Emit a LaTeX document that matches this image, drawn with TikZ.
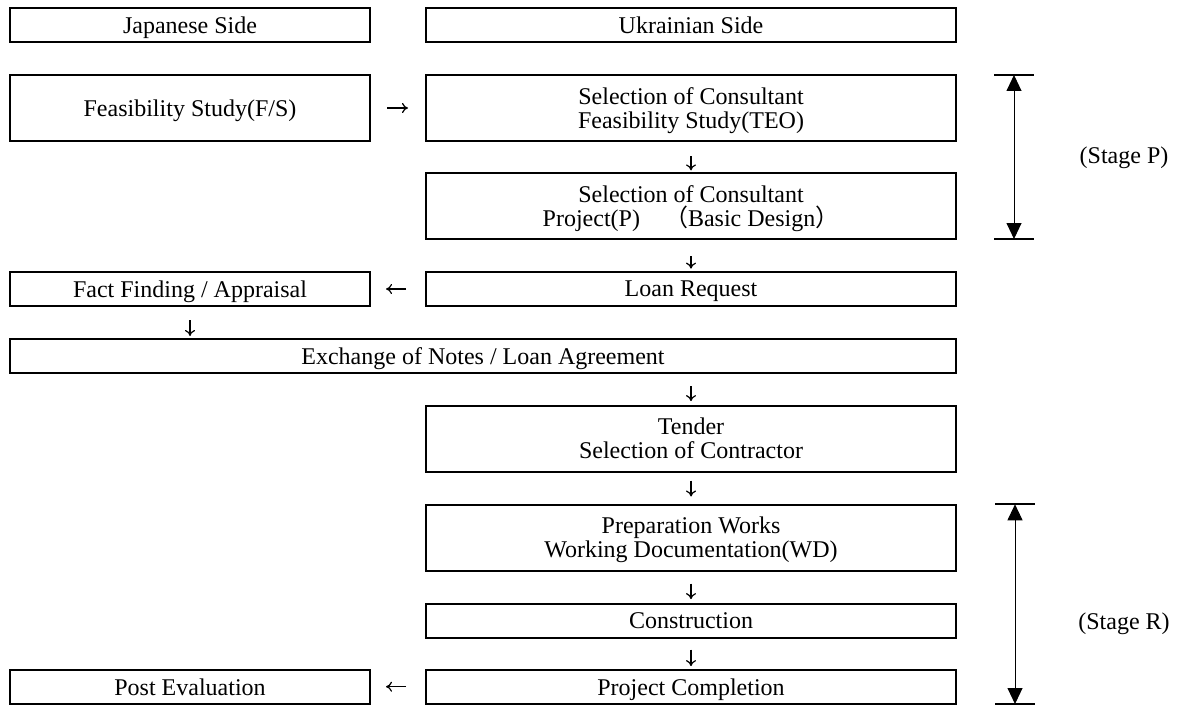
\documentclass[tikz,border=0pt]{standalone}
\usepackage{fontspec}
\setmainfont{Liberation Serif}
\newfontfamily\cjkfont{Noto Sans CJK JP}
\usetikzlibrary{arrows.meta}

\begin{document}
\begin{tikzpicture}[
    x=0.5pt, y=-0.5pt,
    font=\fontsize{12}{12}\selectfont,
    box/.style={draw, line width=1pt, align=center, inner sep=0pt, text depth=0pt, minimum height=17pt},
    tallbox/.style={box, minimum height=33pt},
    jpbox/.style={minimum width=180pt},
    uabox/.style={minimum width=265pt},
    fullbox/.style={minimum width=473pt},
    flow/.style={-{To[length=3pt,width=5pt]}, line width=0.6pt},
    stage/.style={{Triangle[length=8pt,width=7.5pt]}-{Triangle[length=8pt,width=7.5pt]}, line width=0.5pt},
    tick/.style={line width=1pt}
  ]
    \useasboundingbox (0,0) rectangle (1182,706);
    % headers
    \node[box, jpbox] (jp) at (190,25) {Japanese Side};
    \node[box, uabox] (ua) at (691,25) {Ukrainian Side};
    % boxes
    \node[tallbox, jpbox] (fs) at (190,108) {Feasibility Study(F/S)};
    \node[tallbox, uabox] (teo) at (691,108) {Selection of Consultant\\Feasibility Study(TEO)};
    \node[tallbox, uabox] (bd) at (691,206) {Selection of Consultant\\Project(P){\cjkfont 　（}Basic Design{\cjkfont ）}};
    \node[box, uabox] (loan) at (691,289) {Loan Request};
    \node[box, jpbox] (ff) at (190,289) {Fact Finding / Appraisal};
    \node[box, fullbox] (en) at (483,356) {Exchange of Notes / Loan Agreement};
    \node[tallbox, uabox] (tender) at (691,438.5) {Tender\\Selection of Contractor};
    \node[tallbox, uabox] (prep) at (691,537.5) {Preparation Works\\Working Documentation(WD)};
    \node[box, uabox] (cons) at (691,620.7) {Construction};
    \node[box, uabox] (done) at (691,686.7) {Project Completion};
    \node[box, jpbox] (post) at (190,686.7) {Post Evaluation};
    % flow
    \draw[flow, shorten <=8pt, shorten >=8.5pt] (fs) -- (teo);
    \draw[flow, shorten <=7pt, shorten >=0.8pt] (teo) -- (bd);
    \draw[flow, shorten <=8pt, shorten >=1.2pt] (bd) -- (loan);
    \draw[flow, shorten <=9.5pt, shorten >=7.5pt] (loan) -- (ff);
    \draw[flow, shorten <=6.5pt, shorten >=1pt] (ff) -- (ff |- en.north);
    \draw[flow, shorten <=6pt, shorten >=1.7pt] (en.south -| tender) -- (tender);
    \draw[flow, shorten <=4pt, shorten >=3.5pt] (tender) -- (prep);
    \draw[flow, shorten <=6pt, shorten >=1.8pt] (prep) -- (cons);
    \draw[flow, shorten <=5.5pt, shorten >=1.3pt] (cons) -- (done);
    \draw[flow, shorten <=9.5pt, shorten >=7.5pt] (done) -- (post);
    % stages
    \coordinate (ptop) at (1014,75);
    \coordinate (pbot) at (1014,239);
    \coordinate (rtop) at (1015,504.3);
    \coordinate (rbot) at (1015,704);
    \draw[tick] ([xshift=-10pt]ptop) -- ([xshift=10pt]ptop);
    \draw[tick] ([xshift=-10pt]pbot) -- ([xshift=10pt]pbot);
    \draw[tick] ([xshift=-10pt]rtop) -- ([xshift=10pt]rtop);
    \draw[tick] ([xshift=-10pt]rbot) -- ([xshift=10pt]rbot);
    \draw[stage] (ptop) -- (pbot);
    \draw[stage] (rtop) -- (rbot);
    \node (stp) at (1124,158) {(Stage P)};
    \node (str) at (1124,624) {(Stage R)};
  \end{tikzpicture}
\end{document}
